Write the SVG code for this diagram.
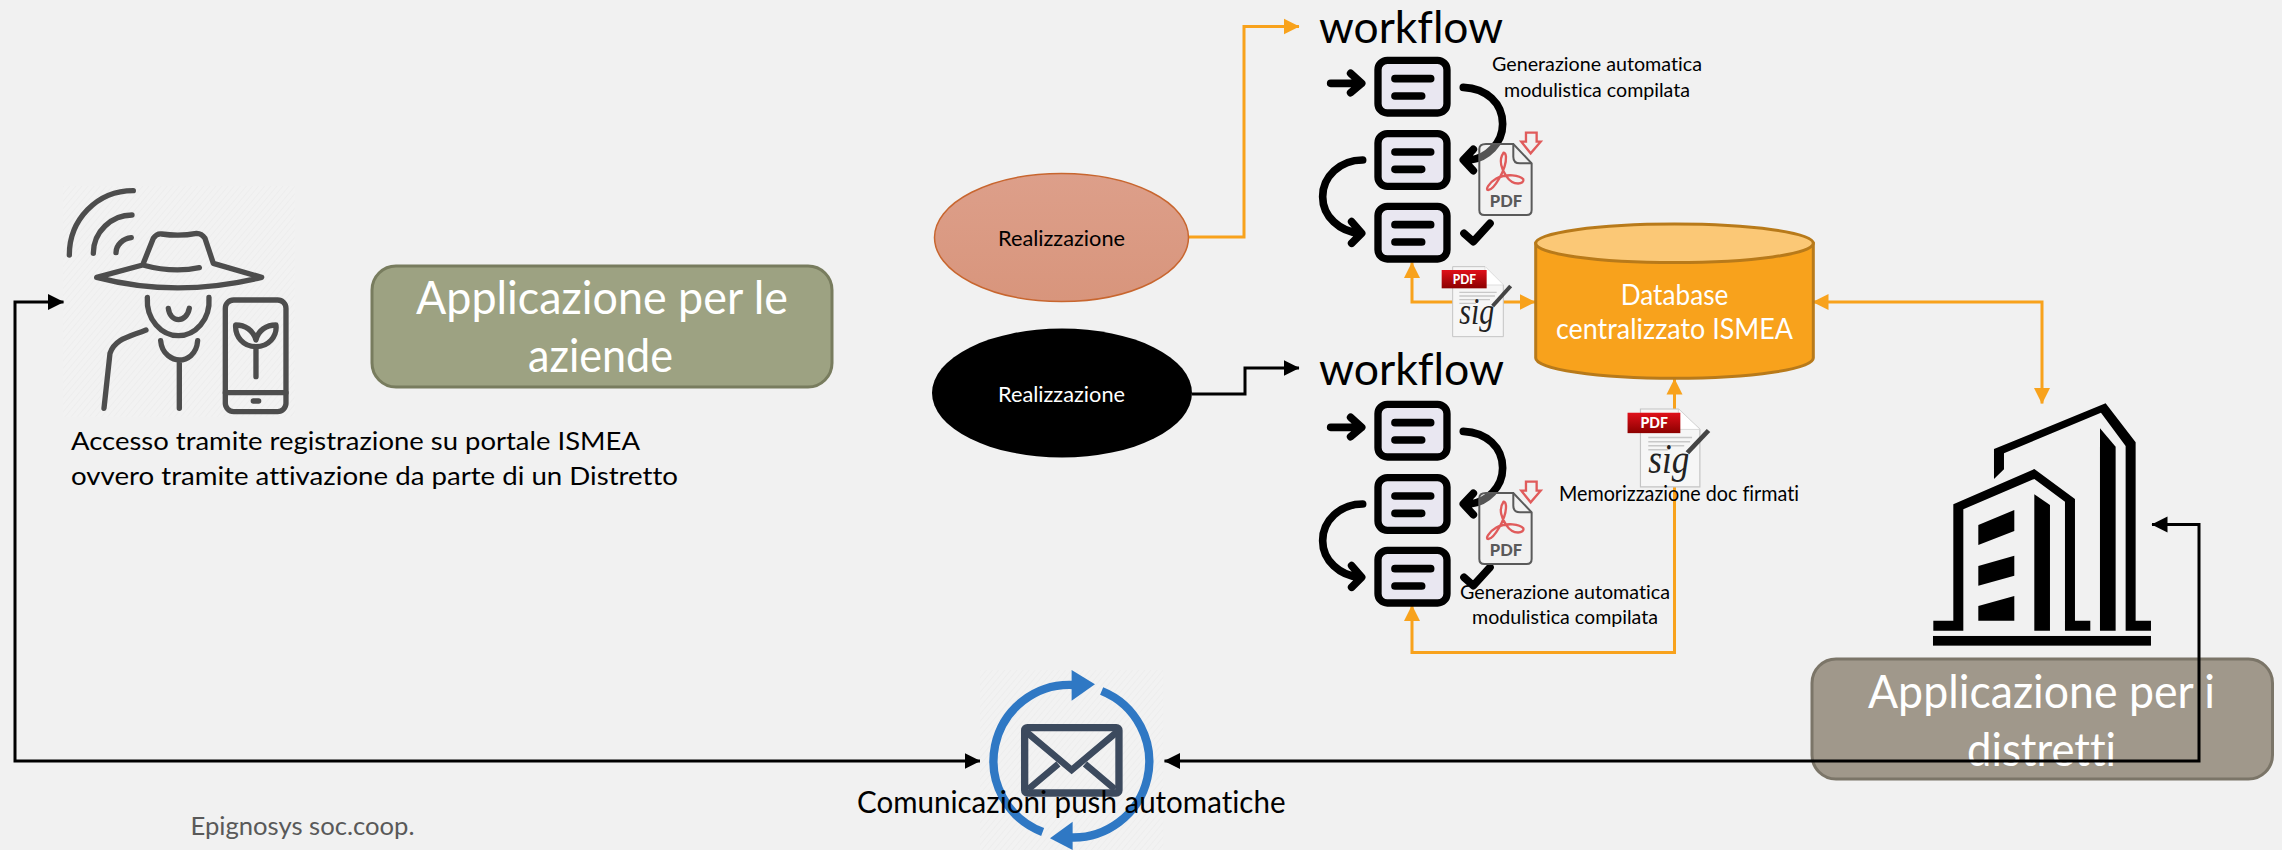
<svg xmlns="http://www.w3.org/2000/svg" xmlns:xlink="http://www.w3.org/1999/xlink" width="2282" height="850" viewBox="0 0 2282 850">
<style>
text{font-family:"Lato","Open Sans","Liberation Sans",sans-serif;font-variant-ligatures:none}
.w{fill:#fff}.k{fill:#000}
.box{stroke-width:3}
.org{fill:none;stroke:#f8a21c;stroke-width:3;stroke-linejoin:miter}
.blk{fill:none;stroke:#000;stroke-width:3}
.ln{fill:none;stroke:#4d4d4d;stroke-width:16;stroke-linecap:round;stroke-linejoin:round}
.wf{fill:none;stroke:#000;stroke-width:23;stroke-linecap:round;stroke-linejoin:round}
.pdfr{fill:none;stroke:#e05b5b;stroke-width:7}
</style>
<defs>
<marker id="ao" markerUnits="userSpaceOnUse" markerWidth="17" markerHeight="18" refX="15.5" refY="8" orient="auto-start-reverse" viewBox="0 0 17 16"><path d="M0 0L16 8L0 16Z" fill="#f8a21c"/></marker>
<marker id="ab" markerUnits="userSpaceOnUse" markerWidth="17" markerHeight="18" refX="15.5" refY="8" orient="auto-start-reverse" viewBox="0 0 17 16"><path d="M0 0L16 8L0 16Z" fill="#000"/></marker>
<pattern id="hatch" width="14" height="14" patternUnits="userSpaceOnUse" patternTransform="rotate(40)"><rect width="14" height="14" fill="#f2f2f2"/><rect width="2" height="14" fill="#ececec"/></pattern>
<linearGradient id="ell" x1="0" y1="0" x2="0" y2="1"><stop offset="0" stop-color="#dd9f8a"/><stop offset="1" stop-color="#d8957c"/></linearGradient>
<g id="wfbox"><rect x="294" y="0" width="207" height="158" rx="28" fill="#e9e7f1" stroke="#000" stroke-width="22"/><path d="M345 55H452M345 107H425" class="wf"/></g>
<g id="wficon">
<use xlink:href="#wfbox" href="#wfbox" y="181"/>
<use xlink:href="#wfbox" href="#wfbox" y="401"/>
<use xlink:href="#wfbox" href="#wfbox" y="619"/>
<path class="wf" d="M152 250H240M212 220L245 250L212 278"/>
<path class="wf" d="M550 262C620 265 668 310 668 372C668 430 620 475 570 480M580 448L550 480L580 512"/>
<path class="wf" d="M248 480C180 480 128 530 128 590C128 650 180 695 240 700M215 665L245 700L215 730"/>
<path class="wf" d="M552 700L580 725L630 670"/>
</g>
<g id="pdficon">
<path d="M618 432H700L755 490V630Q755 645 740 645H613Q598 645 598 630V447Q598 432 618 432Z" fill="#f1f1f1" fill-opacity=".35" stroke="#5a5a5a" stroke-width="6"/>
<path d="M700 432V470Q700 490 720 490H755" fill="none" stroke="#5a5a5a" stroke-width="6"/>
<path class="pdfr" d="M738 398H770V425H782L752 460L724 425H738Z"/>
<path class="pdfr" d="M670 460C655 480 665 510 680 530C700 560 735 552 730 538C720 525 680 520 650 535C625 550 615 570 625 570C640 570 680 510 678 470C677 458 670 456 670 460Z"/>
<text x="678" y="620" text-anchor="middle" font-size="50" font-weight="900" fill="#5a5a5a" textLength="97" lengthAdjust="spacingAndGlyphs">PDF</text>
</g>
<linearGradient id="red" x1="0" y1="0" x2="0" y2="1"><stop offset="0" stop-color="#e0101a"/><stop offset="1" stop-color="#8c0000"/></linearGradient>
<g id="sigicon">
<path d="M38 20H135L190 75V230H38Z" fill="#f6f6f6" stroke="#c4c4c4" stroke-width="3"/>
<path d="M135 20V75H190" fill="#fff" stroke="#d0d0d0" stroke-width="2"/>
<path d="M58 97H170M58 108H165M58 119H150M58 130H108" stroke="#c8c8c8" stroke-width="4" fill="none"/>
<rect x="5" y="30" width="135" height="55" fill="url(#red)"/>
<text x="38" y="72" font-size="38" font-weight="900" fill="#fff" textLength="70" lengthAdjust="spacingAndGlyphs">PDF</text>
<path d="M158 138L212 78" stroke="#444" stroke-width="12" fill="none"/>
<text x="58" y="192" font-size="112" fill="#222" style="font-family:'Liberation Serif',serif;font-style:italic" textLength="105" lengthAdjust="spacingAndGlyphs">sig</text>
</g>
</defs>
<rect width="2282" height="850" fill="#f1f1f1"/>

<g id="farmer" transform="translate(40 170) scale(.3333)">
<rect x="69" y="48" width="695" height="692" fill="url(#hatch)"/>
<path class="ln" d="M88 255C88 150 170 62 280 62M160 250C160 185 215 135 276 135M228 248C228 225 250 205 274 203"/>
<path class="ln" d="M308 285L340 205Q350 190 365 192Q420 200 470 190Q485 190 495 205L520 280L665 322Q410 385 170 322L308 285Q400 310 478 293"/>
<path class="ln" d="M322 382C318 450 365 497 415 497C465 497 512 450 507 382M385 415C390 460 440 460 448 415"/>
<path class="ln" d="M318 480C270 500 225 505 210 550L192 715M362 512C365 555 400 570 418 570C440 570 470 555 473 512M418 570V715"/>
<rect x="556" y="390" width="182" height="335" rx="25" class="ln"/>
<path class="ln" d="M556 668H738M640 693H656M648 530V620M587 465C585 500 610 530 648 530C685 530 712 500 708 465C680 465 655 480 648 510C640 480 615 465 587 465Z"/>
</g>
<g id="access-text" class="k">
<text x="71" y="450" font-size="25" textLength="569" lengthAdjust="spacingAndGlyphs">Accesso tramite registrazione su portale ISMEA</text>
<text x="71" y="485" font-size="25" textLength="607" lengthAdjust="spacingAndGlyphs">ovvero tramite attivazione da parte di un Distretto</text>
</g>
<g id="app-aziende">
<rect x="372" y="266" width="460" height="121" rx="24" fill="#9da282" stroke="#787c5e" class="box"/>
<text class="w" x="416" y="314" font-size="46" textLength="372" lengthAdjust="spacingAndGlyphs">Applicazione per le</text>
<text class="w" x="528" y="372" font-size="46" textLength="145" lengthAdjust="spacingAndGlyphs">aziende</text>
</g>
<g id="app-distretti">
<rect x="1812" y="659" width="460.500" height="120" rx="24" fill="#a0988b" stroke="#7b7568" class="box"/>
<text class="w" x="1868" y="708" font-size="46" textLength="347" lengthAdjust="spacingAndGlyphs">Applicazione per i</text>
<text class="w" x="1967" y="766" font-size="46" textLength="149" lengthAdjust="spacingAndGlyphs">distretti</text>
</g>

<g id="connectors">
<path class="org" d="M1189 237H1244V26.500H1299" marker-end="url(#ao)"/>
<path class="blk" d="M1192 394H1245V368H1299" marker-end="url(#ab)"/>
<path class="org" d="M1412 262.500V302H1535" marker-start="url(#ao)" marker-end="url(#ao)"/>
<path class="org" d="M1813 302H2042V403.500" marker-start="url(#ao)" marker-end="url(#ao)"/>
<path class="org" d="M1412 605.500V652.500H1674.500V379" marker-start="url(#ao)" marker-end="url(#ao)"/>
<path class="blk" d="M63.500 302H15V761H980" marker-start="url(#ab)" marker-end="url(#ab)"/>
<path class="blk" d="M2152 524.500H2199V761H1164.500" marker-start="url(#ab)" marker-end="url(#ab)"/>
</g>

<g id="realizzazione-1">
<ellipse cx="1061.500" cy="237.500" rx="127" ry="64" fill="url(#ell)" stroke="#c8662f" stroke-width="1.500"/>
<text class="k" x="998" y="246" font-size="21" textLength="127" lengthAdjust="spacingAndGlyphs">Realizzazione</text>
</g>
<g id="realizzazione-2">
<ellipse cx="1062" cy="393" rx="130" ry="64.500" fill="#000"/>
<text class="w" x="998" y="402" font-size="21" textLength="127" lengthAdjust="spacingAndGlyphs">Realizzazione</text>
</g>

<g id="workflow-1">
<text class="k" x="1319" y="42.500" font-size="45" textLength="184" lengthAdjust="spacingAndGlyphs">workflow</text>
<use xlink:href="#wficon" href="#wficon" transform="translate(1280 0) scale(.3333)"/>
<use xlink:href="#pdficon" href="#pdficon" transform="translate(1280 0) scale(.3333)"/>
<text class="k" x="1492" y="71" font-size="20" textLength="210" lengthAdjust="spacingAndGlyphs">Generazione automatica</text>
<text class="k" x="1504" y="97" font-size="20" textLength="186" lengthAdjust="spacingAndGlyphs">modulistica compilata</text>
</g>
<g id="sig-1"><use xlink:href="#sigicon" href="#sigicon" transform="translate(1440 260) scale(.3333)"/></g>

<g id="workflow-2">
<text class="k" x="1319" y="385" font-size="45" textLength="185" lengthAdjust="spacingAndGlyphs">workflow</text>
<use xlink:href="#wficon" href="#wficon" transform="translate(1280 344) scale(.3333)"/>
<use xlink:href="#pdficon" href="#pdficon" transform="translate(1280 349) scale(.3333)"/>
<text class="k" x="1460" y="599" font-size="20" textLength="210" lengthAdjust="spacingAndGlyphs">Generazione automatica</text>
<text class="k" x="1472" y="624" font-size="20" textLength="186" lengthAdjust="spacingAndGlyphs">modulistica compilata</text>
</g>
<g id="sig-2"><use xlink:href="#sigicon" href="#sigicon" transform="translate(1625.600 401.600) scale(.391 .371)"/>
<text class="k" x="1559" y="501" font-size="21" textLength="240" lengthAdjust="spacingAndGlyphs">Memorizzazione doc firmati</text>
</g>

<g id="database">
<path d="M1535.700 243.300V358C1535.700 369 1597 378.300 1674.500 378.300S1813.300 369 1813.300 358V243.300Z" fill="#f8a21c" stroke="#b87a1a" stroke-width="3"/>
<ellipse cx="1674.500" cy="243.300" rx="138.800" ry="19.300" fill="#fbc876" stroke="#b87a1a" stroke-width="3"/>
<text class="w" x="1620.700" y="304.500" font-size="29" textLength="107.600" lengthAdjust="spacingAndGlyphs">Database</text>
<text class="w" x="1556" y="338.500" font-size="29" textLength="237" lengthAdjust="spacingAndGlyphs">centralizzato ISMEA</text>
</g>

<g id="building" transform="translate(1800 380) scale(.3333)" fill="#000">
<rect x="399" y="768" width="654" height="29"/>
<path d="M582 297V207L917 70L1007 187V722H1053V752H977V198L903 98L612 220V268Z"/>
<path d="M900 145L947 200V752H900Z"/>
<path d="M400 722H460V373L703 267L825 357V722H871V752H795V365L703 297L490 388V752H400Z"/>
<path d="M703 343L750 375V752H703Z"/>
<path d="M535 435L643 390V453L535 495ZM535 558L643 527V587L535 617ZM535 678L643 648V722H535Z"/>
</g>

<g id="mail">
<g transform="translate(820 650) scale(.3333)">
<rect x="480" y="60" width="550" height="540" fill="url(#hatch)"/>
<path d="M668 546A228 228 0 0 1 760 105" fill="none" stroke="#2f78c4" stroke-width="25"/>
<path d="M845 123A228 228 0 0 1 745 562" fill="none" stroke="#2f78c4" stroke-width="25"/>
<path d="M755 60L825 103L755 152Z" fill="#2f78c4"/>
<path d="M758 515L690 565L758 600Z" fill="#2f78c4"/>
<rect x="614" y="233" width="283" height="196" rx="8" fill="none" stroke="#3c4a5e" stroke-width="22"/>
<path d="M618 245L755 360L892 245M625 418L715 342M885 418L795 342" fill="none" stroke="#3c4a5e" stroke-width="20"/>
</g>
<text class="k" x="857" y="813" font-size="30" textLength="428.500" lengthAdjust="spacingAndGlyphs">Comunicazioni push automatiche</text>
</g>

<text id="footer" x="190.500" y="835" font-size="25" fill="#595959" textLength="224" lengthAdjust="spacingAndGlyphs">Epignosys soc.coop.</text>
</svg>
